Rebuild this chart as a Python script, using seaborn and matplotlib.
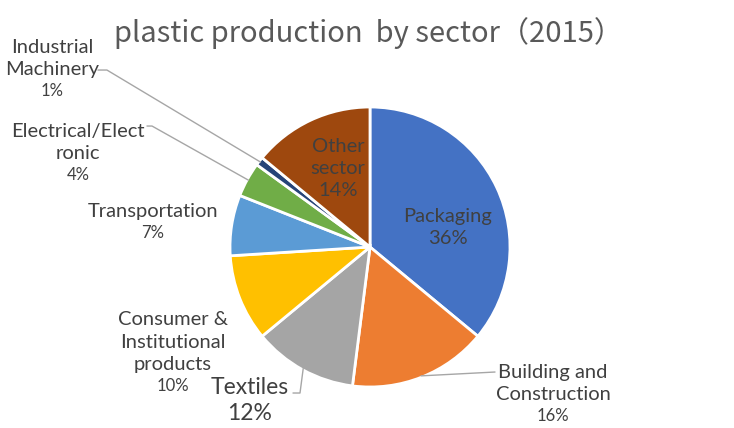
import numpy as np
import matplotlib
matplotlib.use("Agg")
import matplotlib.pyplot as plt
import seaborn as sns

sns.set_theme(style="white")
plt.rcParams['font.family'] = ['Lato', 'DejaVu Sans']

# данные
sectors = ["Packaging", "Building and\nConstruction", "Textiles",
           "Consumer &\nInstitutional\nproducts", "Transportation",
           "Electrical/Elect\nronic", "Industrial\nMachinery", "Other\nsector"]
shares = [36, 16, 12, 10, 7, 4, 1, 14]
colors = ["#4472C4", "#ED7D31", "#A5A5A5", "#FFC000", "#5B9BD5",
          "#70AD47", "#264478", "#9E480E"]

# позиции подписей (в координатах радиуса пирога): граница между названием и процентом
label_pos = [(0.557, 0.143), (1.307, -1.129), (-0.857, -1.093), (-1.407, -0.914),
             (-1.55, 0.179), (-2.086, 0.593), (-2.271, 1.193), (-0.229, 0.486)]
name_size = [14.5, 14.5, 16.5, 14.5, 14.5, 14.5, 14.5, 14.5]
pct_size = [14.5, 12, 16.5, 12, 12, 12, 12, 14.5]
# точки изгиба выносных линий (None - без линии)
leader_pts = [None, [(0.893, -0.893)], [(-0.50, -1.043), (-0.55, -1.043)],
              None, None, [(-1.557, 0.864), (-1.593, 0.864)],
              [(-1.879, 1.264), (-1.943, 1.264)], None]

fig = plt.figure(figsize=(7.34, 4.28), dpi=100)
ax = fig.add_axes([230 / 734, 41 / 428, 280 / 734, 280 / 428])

wedges, _ = ax.pie(shares, colors=colors, startangle=90, counterclock=False,
                   radius=1.0, wedgeprops=dict(edgecolor="white", linewidth=2))
ax.set_xlim(-1, 1)
ax.set_ylim(-1, 1)
ax.set_aspect("equal")
ax.axis("off")

for i, (w, name, val) in enumerate(zip(wedges, sectors, shares)):
    x, y = label_pos[i]
    ax.text(x, y + 0.012, name, ha="center", va="bottom", fontsize=name_size[i],
            color="#404040", linespacing=1.4, clip_on=False)
    ax.text(x, y - 0.02, f"{val}%", ha="center", va="top", fontsize=pct_size[i],
            color="#404040", clip_on=False)
    if leader_pts[i] is not None:
        ang = np.deg2rad((w.theta1 + w.theta2) / 2)
        pts = [(np.cos(ang) * 0.99, np.sin(ang) * 0.99)] + leader_pts[i]
        xs, ys = zip(*pts)
        ax.plot(xs, ys, color="#A6A6A6", lw=1, clip_on=False)

fig.text(368 / 734, 1 - 33 / 428, "plastic production  by sector（2015）",
         ha="center", va="center", fontsize=21, color="#595959",
         family=['Noto Sans CJK SC', 'DejaVu Sans'])

fig.savefig("out.png", dpi=100)
